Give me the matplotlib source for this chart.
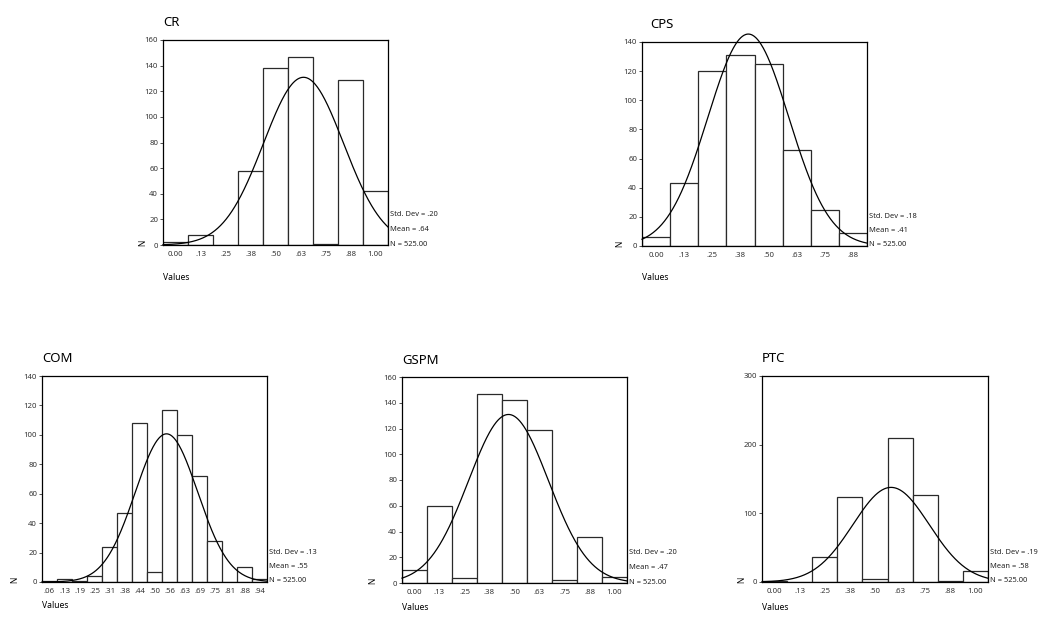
import numpy as np
import matplotlib.pyplot as plt

plt.rcParams['font.family'] = ['Noto Sans', 'DejaVu Sans']

W, H = 1040, 621

# bin centres and counts
cr_centers = [0.0, 0.125, 0.25, 0.375, 0.5, 0.625, 0.75, 0.875, 1.0]
cr_counts = [2, 8, 0, 58, 138, 147, 1, 129, 42]
cr_labels = ['0.00', '.13', '.25', '.38', '.50', '.63', '.75', '.88', '1.00']

cps_centers = [0.0, 0.125, 0.25, 0.375, 0.5, 0.625, 0.75, 0.875]
cps_counts = [6, 43, 120, 131, 125, 66, 25, 9]
cps_labels = ['0.00', '.13', '.25', '.38', '.50', '.63', '.75', '.88']

com_centers = [0.0625, 0.125, 0.1875, 0.25, 0.3125, 0.375, 0.4375, 0.5,
               0.5625, 0.625, 0.6875, 0.75, 0.8125, 0.875, 0.9375]
com_counts = [1, 2, 1, 4, 24, 47, 108, 7, 117, 100, 72, 28, 0, 10, 2]
com_labels = ['.06', '.13', '.19', '.25', '.31', '.38', '.44', '.50',
              '.56', '.63', '.69', '.75', '.81', '.88', '.94']

gspm_centers = [0.0, 0.125, 0.25, 0.375, 0.5, 0.625, 0.75, 0.875, 1.0]
gspm_counts = [10, 60, 4, 147, 142, 119, 2, 36, 5]
gspm_labels = ['0.00', '.13', '.25', '.38', '.50', '.63', '.75', '.88', '1.00']

ptc_centers = [0.0, 0.125, 0.25, 0.375, 0.5, 0.625, 0.75, 0.875, 1.0]
ptc_counts = [2, 0, 37, 124, 4, 210, 127, 1, 16]
ptc_labels = ['0.00', '.13', '.25', '.38', '.50', '.63', '.75', '.88', '1.00']

# std dev, mean, n printed next to each chart
cr_stats = (0.20, 0.64, 525)
cps_stats = (0.18, 0.41, 525)
com_stats = (0.13, 0.55, 525)
gspm_stats = (0.20, 0.47, 525)
ptc_stats = (0.19, 0.58, 525)


def ftxt(fig, x, y, s, **kw):
    fig.text(x / W, 1 - y / H, s, **kw)


def panel(fig, box, title, centers, counts, width, labels, yticks, stats,
          title_dx=0, values_dy=32, n_dx=20):
    l, t, r, b = box
    ax = fig.add_axes([l / W, 1 - b / H, (r - l) / W, (b - t) / H])
    ax.bar(centers, counts, width=width, color='white', edgecolor='#2a2a2a',
           linewidth=0.9, zorder=2)
    x0 = centers[0] - width / 2
    x1 = centers[-1] + width / 2
    ax.set_xlim(x0, x1)
    ax.set_ylim(yticks[0], yticks[-1])

    # normal curve from the printed mean / std dev, scaled to counts
    sd, mean, n = stats
    xs = np.linspace(x0, x1, 400)
    ys = n * width / (sd * np.sqrt(2 * np.pi)) * np.exp(-0.5 * ((xs - mean) / sd) ** 2)
    ax.plot(xs, ys, color='black', lw=0.9, clip_on=False, zorder=3)

    ax.set_xticks(centers)
    ax.set_xticklabels(labels)
    ax.set_yticks(yticks)
    ax.tick_params(axis='x', length=0, pad=4, labelsize=5.6, colors='#333333')
    ax.tick_params(axis='y', length=2, width=0.6, pad=1.5, labelsize=5.6,
                   colors='#333333')
    for sp in ax.spines.values():
        sp.set_linewidth(0.9)
        sp.set_color('black')

    ftxt(fig, l + title_dx, t - 17, title, fontsize=9.5, ha='left', va='center')
    ftxt(fig, l, b + values_dy, 'Values', fontsize=6.2, ha='left', va='center')
    ftxt(fig, l - n_dx, b - 2, 'N', fontsize=6, ha='center', va='center',
         rotation=90)
    ftxt(fig, r + 2, b - 30, 'Std. Dev = ' + f'{sd:.2f}'.lstrip('0'),
         fontsize=5.4, ha='left', va='center', color='#222222')
    ftxt(fig, r + 2, b - 15.5, 'Mean = ' + f'{mean:.2f}'.lstrip('0'),
         fontsize=5.4, ha='left', va='center', color='#222222')
    ftxt(fig, r + 2, b - 1, f'N = {n:.2f}', fontsize=5.4, ha='left',
         va='center', color='#222222')
    return ax


def main():
    fig = plt.figure(figsize=(W / 100, H / 100), dpi=100)
    fig.patch.set_facecolor('white')

    panel(fig, (163, 40, 388, 245), 'CR', cr_centers, cr_counts, 0.125,
          cr_labels, list(range(0, 161, 20)), cr_stats)
    panel(fig, (642, 42, 867, 246), 'CPS', cps_centers, cps_counts, 0.125,
          cps_labels, list(range(0, 141, 20)), cps_stats, title_dx=8, n_dx=22)
    panel(fig, (42, 376, 267, 582), 'COM', com_centers, com_counts, 0.0625,
          com_labels, list(range(0, 141, 20)), com_stats, values_dy=24, n_dx=27)
    panel(fig, (402, 377, 627, 583), 'GSPM', gspm_centers, gspm_counts, 0.125,
          gspm_labels, list(range(0, 161, 20)), gspm_stats, values_dy=24, n_dx=29)
    panel(fig, (762, 376, 988, 582), 'PTC', ptc_centers, ptc_counts, 0.125,
          ptc_labels, [0, 100, 200, 300], ptc_stats, values_dy=25, n_dx=20)

    fig.savefig('out.png', dpi=100)
    return 0


if __name__ == '__main__':
    exit(main())
